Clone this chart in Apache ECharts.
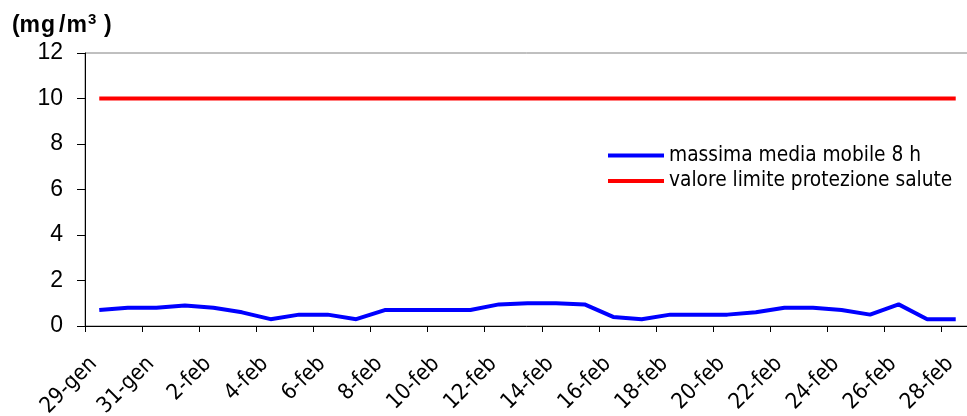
<!DOCTYPE html>
<html>
<head>
<meta charset="utf-8">
<script src="https://cdn.jsdelivr.net/npm/echarts@6/dist/echarts.min.js"></script>
<style>
html,body{margin:0;padding:0;background:#fff;}
#c{width:967px;height:416px;}
</style>
</head>
<body>
<div id="c"></div>
<script>
const categories = ["29-gen","30-gen","31-gen","1-feb","2-feb","3-feb","4-feb","5-feb","6-feb","7-feb","8-feb","9-feb","10-feb","11-feb","12-feb","13-feb","14-feb","15-feb","16-feb","17-feb","18-feb","19-feb","20-feb","21-feb","22-feb","23-feb","24-feb","25-feb","26-feb","27-feb","28-feb"];
const mediaMobile = [0.7,0.8,0.8,0.9,0.8,0.6,0.3,0.5,0.5,0.3,0.7,0.7,0.7,0.7,0.95,1.0,1.0,0.95,0.4,0.3,0.5,0.5,0.5,0.6,0.8,0.8,0.7,0.5,0.95,0.3,0.3];
const valoreLimite = [10,10,10,10,10,10,10,10,10,10,10,10,10,10,10,10,10,10,10,10,10,10,10,10,10,10,10,10,10,10,10];
const seriesNames = ["massima media mobile 8 h","valore limite protezione salute"];
const yTicks = {min:0,max:12,interval:2};
const unitParts = ["(","m","g","/","m","3",")"];

function tx(x, y, t, size) {
  return {type:'text', x:x, y:y, z:100,
    style:{text:t, fontSize:size, fontWeight:'bold', fontFamily:'Liberation Sans', fill:'#000', verticalAlign:'top', align:'left'}};
}
const chart = echarts.init(document.getElementById('c'), null, {renderer:'canvas'});
chart.setOption({
  animation:false,
  backgroundColor:'#ffffff',
  graphic:[
    tx(12,14,unitParts[0],23),
    tx(19.5,14,unitParts[1],23),
    tx(41,14,unitParts[2],23),
    tx(59,14,unitParts[3],23),
    tx(66.5,14,unitParts[4],23),
    tx(88,12,unitParts[5],15),
    tx(104,14,unitParts[6],23)
  ],
  legend:{
    orient:'vertical',
    left:603, top:140,
    itemWidth:56, itemHeight:4, itemGap:4.5,
    icon:'rect',
    textStyle:{fontFamily:'DejaVu Sans Condensed',fontSize:20.7,color:'#000',lineHeight:20},
    data:seriesNames
  },
  grid:{
    left:85, top:53, width:885, bottom:90,
    outerBoundsMode:'none',
    show:true, borderColor:'#808080', borderWidth:1, backgroundColor:'transparent'
  },
  xAxis:{
    type:'category',
    data:categories,
    boundaryGap:true,
    axisLine:{lineStyle:{color:'#000',width:1}},
    axisTick:{show:true,interval:1,length:6,inside:false,lineStyle:{color:'#000'}},
    axisLabel:{interval:1,rotate:45,margin:29,padding:[0,8,0,0],fontFamily:'DejaVu Sans Condensed',fontSize:22,color:'#000'},
    splitLine:{show:false}
  },
  yAxis:{
    type:'value',
    min:yTicks.min, max:yTicks.max, interval:yTicks.interval,
    axisLine:{show:true,lineStyle:{color:'#000',width:1}},
    axisTick:{show:true,length:8,lineStyle:{color:'#000'}},
    axisLabel:{margin:22,fontFamily:'Liberation Sans',fontSize:23,color:'#000'},
    splitLine:{show:false}
  },
  series:[
    {name:seriesNames[0],type:'line',data:mediaMobile,showSymbol:false,symbol:'none',
     lineStyle:{color:'#0000FF',width:4},itemStyle:{color:'#0000FF'},z:3},
    {name:seriesNames[1],type:'line',data:valoreLimite,showSymbol:false,symbol:'none',
     lineStyle:{color:'#FF0000',width:4},itemStyle:{color:'#FF0000'},z:2}
  ]
});
</script>
</body>
</html>
